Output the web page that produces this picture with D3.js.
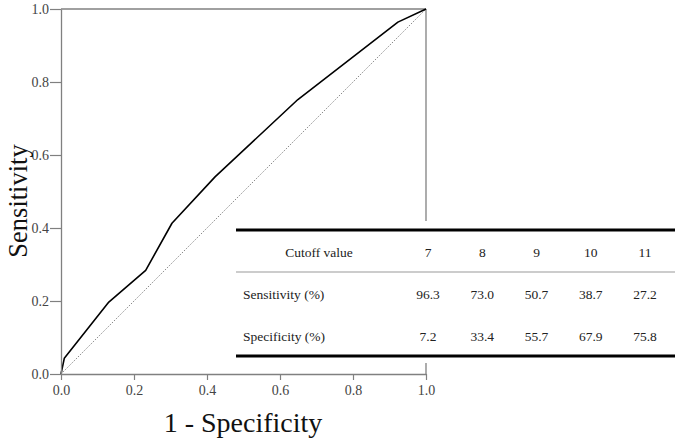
<!DOCTYPE html>
<html><head><meta charset="utf-8">
<script src="https://cdn.jsdelivr.net/npm/d3@7"></script>
<style>body{margin:0;background:#fff}svg{display:block}text{font-family:"Liberation Serif","Times New Roman",serif}</style>
</head><body>
<script>
const fpr = [0, 0.009, 0.131, 0.232, 0.304, 0.422, 0.649, 0.923, 1];
const tpr = [0, 0.043, 0.197, 0.284, 0.413, 0.540, 0.752, 0.964, 1];
const ticks = [0, 0.2, 0.4, 0.6, 0.8, 1.0];
const cutoffs = ["7", "8", "9", "10", "11"];
const sensitivity = ["96.3", "73.0", "50.7", "38.7", "27.2"];
const specificity = ["7.2", "33.4", "55.7", "67.9", "75.8"];

const W = 675, H = 442;
const svg = d3.select("body").append("svg").attr("width", W).attr("height", H);
const x = d3.scaleLinear().domain([0, 1]).range([61, 426]);
const y = d3.scaleLinear().domain([0, 1]).range([374, 9]);
const axisCol = "#808080", labCol = "#444";

svg.append("line").attr("x1", x(0)).attr("x2", x(1)).attr("y1", y(1)).attr("y2", y(1)).attr("stroke", axisCol).attr("stroke-width", 1.3);
svg.append("line").attr("x1", x(1)).attr("x2", x(1)).attr("y1", y(1)).attr("y2", y(0)).attr("stroke", axisCol).attr("stroke-width", 1.3);

svg.append("line").attr("x1", x(0)).attr("y1", y(0)).attr("x2", x(1)).attr("y2", y(1))
  .attr("stroke", "#888").attr("stroke-width", 1).attr("stroke-dasharray", "1.5,1.5");

const pts = fpr.map((d, i) => [d, tpr[i]]);
svg.append("path").datum(pts).attr("fill", "none").attr("stroke", "#000").attr("stroke-width", 1.6)
  .attr("stroke-linejoin", "round")
  .attr("d", d3.line().x(d => x(d[0])).y(d => y(d[1])));

const fmt = d3.format(".1f");
const xa = svg.append("g").attr("transform", `translate(0,${y(0)})`)
  .call(d3.axisBottom(x).tickValues(ticks).tickFormat(fmt).tickSize(6).tickPadding(5).tickSizeOuter(0));
const ya = svg.append("g").attr("transform", `translate(${x(0)},0)`)
  .call(d3.axisLeft(y).tickValues(ticks).tickFormat(fmt).tickSize(11).tickPadding(1).tickSizeOuter(0));
[xa, ya].forEach(g => {
  g.select(".domain").attr("stroke", axisCol).attr("stroke-width", 1.3);
  g.selectAll(".tick line").attr("stroke", axisCol).attr("stroke-width", 1.2);
  g.selectAll(".tick text").attr("fill", labCol).style("font-family", '"Liberation Serif",serif').style("font-size", "14px");
});

svg.append("text").attr("x", 243).attr("y", 432).attr("text-anchor", "middle")
  .style("font-size", "28px").attr("fill", "#111").text("1 - Specificity");
svg.append("text").attr("transform", "translate(27,201) rotate(-90)").attr("text-anchor", "middle")
  .style("font-size", "26.5px").attr("fill", "#111").text("Sensitivity");

const tx0 = 236, tx1 = 675;
svg.append("rect").attr("x", tx0).attr("y", 221).attr("width", tx1 - tx0).attr("height", 142).attr("fill", "#fff");
svg.append("line").attr("x1", tx0).attr("x2", tx1).attr("y1", 230).attr("y2", 230).attr("stroke", "#000").attr("stroke-width", 3);
svg.append("line").attr("x1", tx0).attr("x2", tx1).attr("y1", 272).attr("y2", 272).attr("stroke", "#999").attr("stroke-width", 1);
svg.append("line").attr("x1", tx0).attr("x2", tx1).attr("y1", 356).attr("y2", 356).attr("stroke", "#000").attr("stroke-width", 3);

const colX = d3.scalePoint().domain(cutoffs).range([428, 645]);
const tsz = "13.5px", tcol = "#222";
svg.append("text").attr("x", 319).attr("y", 257).attr("text-anchor", "middle").style("font-size", tsz).attr("fill", tcol).text("Cutoff value");
svg.append("text").attr("x", 243).attr("y", 299).style("font-size", tsz).attr("fill", tcol).text("Sensitivity (%)");
svg.append("text").attr("x", 243).attr("y", 341).style("font-size", tsz).attr("fill", tcol).text("Specificity (%)");
cutoffs.forEach((c, i) => {
  svg.append("text").attr("x", colX(c)).attr("y", 257).attr("text-anchor", "middle").style("font-size", tsz).attr("fill", tcol).text(c);
  svg.append("text").attr("x", colX(c)).attr("y", 299).attr("text-anchor", "middle").style("font-size", tsz).attr("fill", tcol).text(sensitivity[i]);
  svg.append("text").attr("x", colX(c)).attr("y", 341).attr("text-anchor", "middle").style("font-size", tsz).attr("fill", tcol).text(specificity[i]);
});
</script>
</body></html>
